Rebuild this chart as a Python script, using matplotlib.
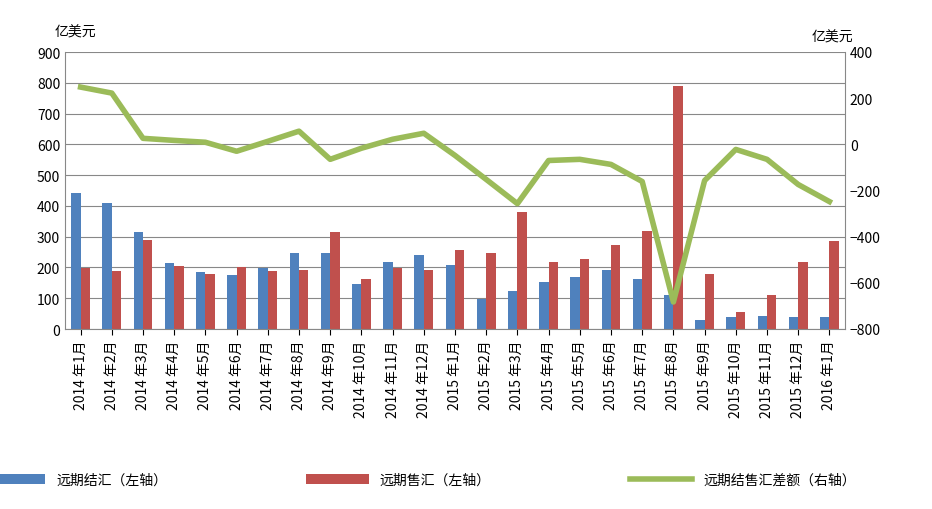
import matplotlib
matplotlib.use("Agg")
import matplotlib.pyplot as plt
from matplotlib import font_manager
import numpy as np

names = {f.name for f in font_manager.fontManager.ttflist}
fams = [n for n in ["Noto Sans CJK SC","Noto Sans CJK JP","Noto Sans CJK TC","Noto Sans CJK KR"] if n in names]
plt.rcParams["font.family"] = fams + ["DejaVu Sans"]

categories = ["2014 年1月","2014 年2月","2014 年3月","2014 年4月","2014 年5月","2014 年6月",
              "2014 年7月","2014 年8月","2014 年9月","2014 年10月","2014 年11月","2014 年12月",
              "2015 年1月","2015 年2月","2015 年3月","2015 年4月","2015 年5月","2015 年6月",
              "2015 年7月","2015 年8月","2015 年9月","2015 年10月","2015 年11月","2015 年12月","2016 年1月"]
settle = [442,409,315,214,185,175,198,247,247,146,218,240,208,97,123,153,169,192,162,110,29,39,42,39,39]
sale = [198,188,289,205,179,201,188,192,315,162,198,192,256,247,380,218,227,273,318,789,179,55,110,218,286]
diff = [248,222,26,17,9,-30,13,57,-65,-17,22,48,-48,-152,-257,-70,-65,-87,-161,-683,-157,-22,-65,-174,-248]

fig = plt.figure(figsize=(9.32,5.10), dpi=100)
ax = fig.add_axes([65/932, 1-330/510, 780/932, 277/510])
x = np.arange(len(categories))
w = 0.3
ax.bar(x-w/2, settle, w, color="#4F81BD", label="远期结汇（左轴）")
ax.bar(x+w/2, sale, w, color="#C0504D", label="远期售汇（左轴）")
ax.set_ylim(0,900)
ax.set_yticks(range(0,901,100))
ax.set_xlim(-0.5, len(x)-0.5)
ax.grid(axis="y", color="#888888", lw=0.8)
ax.set_axisbelow(True)
ax.set_xticks(x)
ax.set_xticklabels(categories, rotation=90, fontsize=9)
ax.tick_params(labelsize=10, length=0)
ax.tick_params(axis="x", length=4)
for s in ["top","right"]:
    ax.spines[s].set_visible(False)
ax.spines["left"].set_color("#888888")
ax.spines["bottom"].set_color("#888888")
ax2 = ax.twinx()
ax2.plot(x, diff, color="#9BBB59", lw=4, label="远期结售汇差额（右轴）")
ax2.set_ylim(-800,400)
ax2.set_yticks(range(-800,401,200))
ax2.tick_params(labelsize=10, length=0)
for s in ["top","left"]:
    ax2.spines[s].set_visible(False)
ax2.spines["right"].set_color("#888888")
ax2.spines["bottom"].set_visible(False)
fig.text(55/932, 1-33/510, "亿美元", fontsize=10, va="center")
fig.text(812/932, 1-38/510, "亿美元", fontsize=10, va="center")
h1, l1 = ax.get_legend_handles_labels()
h2, l2 = ax2.get_legend_handles_labels()
fig.legend(h1+h2, l1+l2, loc="center", bbox_to_anchor=(0.45, 1-481/510), ncol=3,
           frameon=False, fontsize=10, columnspacing=10, handlelength=4.5)
fig.savefig("out.png", dpi=100)
